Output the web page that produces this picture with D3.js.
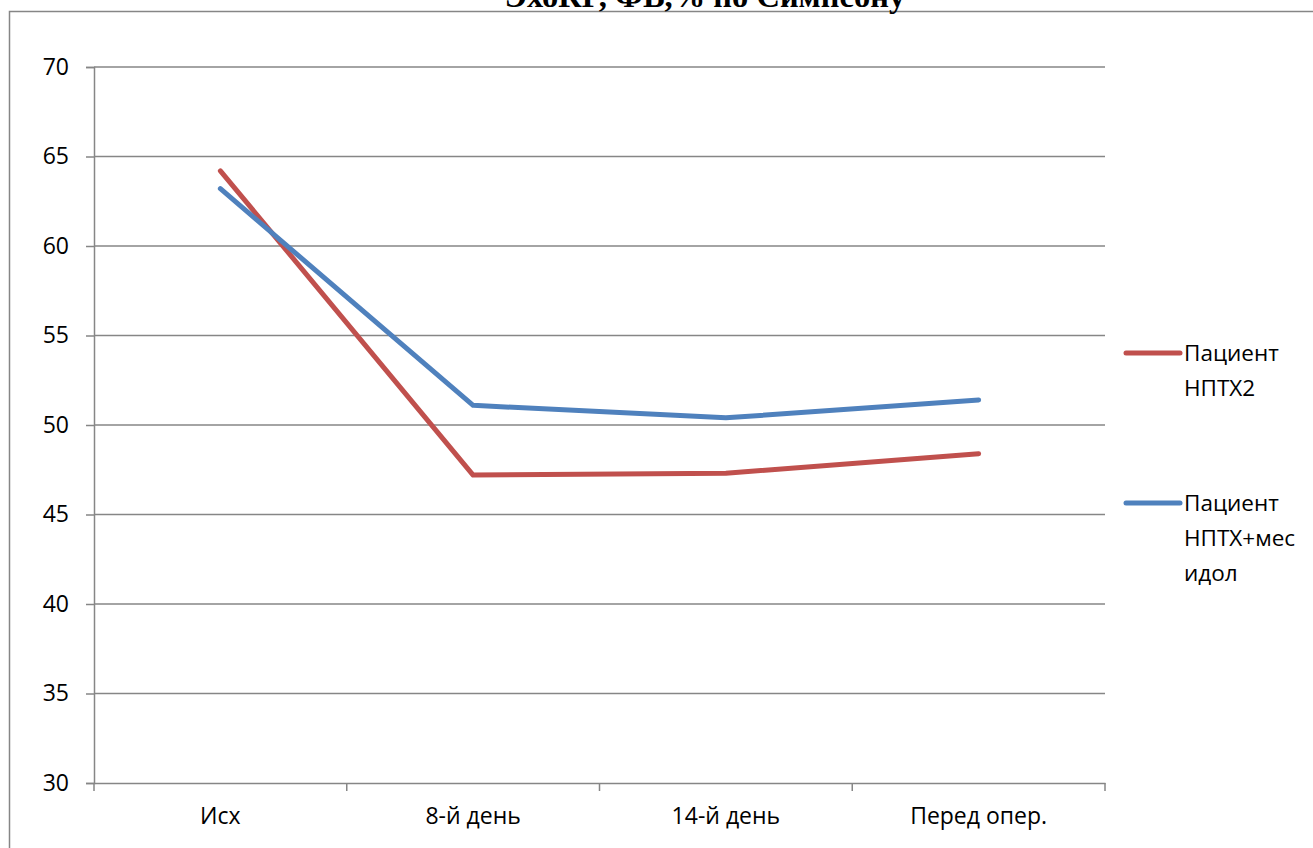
<!DOCTYPE html>
<html>
<head>
<meta charset="utf-8">
<script src="https://cdn.jsdelivr.net/npm/d3@7"></script>
<style>
  body { margin: 0; background: #fff; }
  svg text { font-family: "Open Sans", "Liberation Sans", sans-serif; fill: #000; }
</style>
</head>
<body>
<div id="chart"></div>
<script>
const categories = ["Исх", "8-й день", "14-й день", "Перед опер."];
const seriesNames = [["Пациент", "НПТХ2"], ["Пациент", "НПТХ+мес", "идол"]];
const redValues  = [64.2, 47.2, 47.3, 48.4];
const blueValues = [63.2, 51.1, 50.4, 51.4];
const yTicks = [30, 35, 40, 45, 50, 55, 60, 65, 70];
const colors = ["#C0504D", "#4F81BD"];

const W = 1313, H = 848;
const margin = { left: 94, top: 67, right: 208, bottom: 65 };
const width = W - margin.left - margin.right;
const height = H - margin.top - margin.bottom;

const root = d3.select("#chart").append("svg")
  .attr("width", W).attr("height", H);

// outer frame
root.append("rect")
  .attr("x", 9.5).attr("y", 11.5)
  .attr("width", W + 20).attr("height", H + 20)
  .attr("fill", "none").attr("stroke", "#868686").attr("stroke-width", 1.5);

// title, cut by the top edge as in the original
root.append("text")
  .attr("x", 705).attr("y", 7)
  .attr("text-anchor", "middle")
  .style("font-family", "'Liberation Serif', 'Times New Roman', serif")
  .style("font-weight", "bold")
  .style("font-size", "32.5px")
  .text("ЭхоКГ, ФВ,% по Симпсону");

const svg = root.append("g")
  .attr("transform", `translate(${margin.left},${margin.top})`);

const x = d3.scaleBand().domain(categories).range([0, width]);
const y = d3.scaleLinear().domain([30, 70]).range([height, 0]);

// gridlines
svg.selectAll("line.grid")
  .data(yTicks.slice(1))
  .join("line")
    .attr("class", "grid")
    .attr("x1", 0).attr("x2", width)
    .attr("y1", d => y(d)).attr("y2", d => y(d))
    .attr("stroke", "#868686").attr("stroke-width", 1.5);

const yAxis = svg.append("g")
  .call(d3.axisLeft(y).tickValues(yTicks).tickSize(8).tickPadding(17));
const xAxis = svg.append("g")
  .attr("transform", `translate(0,${height})`)
  .call(d3.axisBottom(x).tickSize(0).tickPadding(33));

// x ticks at band boundaries
svg.selectAll("line.xt")
  .data(d3.range(categories.length + 1))
  .join("line")
    .attr("class", "xt")
    .attr("x1", i => i * x.step()).attr("x2", i => i * x.step())
    .attr("y1", height).attr("y2", height + 8)
    .attr("stroke", "#868686").attr("stroke-width", 1.5);

[yAxis, xAxis].forEach(a => {
  a.selectAll("path.domain").attr("stroke", "#868686").attr("stroke-width", 1.5);
  a.selectAll(".tick line").attr("stroke", "#868686").attr("stroke-width", 1.5);
  a.selectAll("text").style("font-size", "23px").attr("fill", "#000");
});
xAxis.selectAll("text").attr("dy", "0.35em");

const line = d3.line()
  .x((d, i) => x(categories[i]) + x.bandwidth() / 2)
  .y(d => y(d));

[redValues, blueValues].forEach((vals, k) => {
  svg.append("path")
    .datum(vals)
    .attr("d", line)
    .attr("fill", "none")
    .attr("stroke", colors[k])
    .attr("stroke-width", 5)
    .attr("stroke-linecap", "round")
    .attr("stroke-linejoin", "round");
});

// legend
const legendY = [353, 503];
seriesNames.forEach((names, k) => {
  const g = root.append("g").attr("transform", `translate(1124,${legendY[k]})`);
  g.append("line")
    .attr("x1", 2).attr("x2", 56)
    .attr("stroke", colors[k]).attr("stroke-width", 5)
    .attr("stroke-linecap", "round");
  g.selectAll("text")
    .data(names)
    .join("text")
      .attr("x", 60)
      .attr("y", (d, i) => i * 35)
      .attr("dy", "0.35em")
      .style("font-size", "22.5px")
      .text(d => d);
});
</script>
</body>
</html>
